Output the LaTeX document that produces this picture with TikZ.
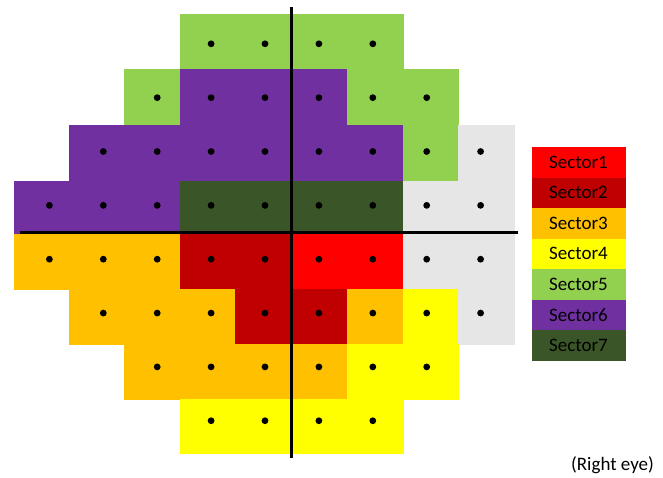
\documentclass[tikz,border=0pt]{standalone}
\usepackage{fontspec}
\setmainfont{Carlito}
\definecolor{sOne}{HTML}{FF0000}
\definecolor{sTwo}{HTML}{C00000}
\definecolor{sThree}{HTML}{FFC000}
\definecolor{sFour}{HTML}{FFFF00}
\definecolor{sFive}{HTML}{92D050}
\definecolor{sSix}{HTML}{7030A0}
\definecolor{sSeven}{HTML}{3A5527}
\definecolor{sGray}{HTML}{E7E6E6}
\begin{document}
\begin{tikzpicture}[x=1pt,y=-1pt,
  legbox/.style={rectangle, minimum width=94pt, minimum height=30.5pt, inner sep=0pt, font=\fontsize{19}{22}\selectfont, text=black},
  axisline/.style={line width=3pt, black},
  dot/.style={fill=black}]
\useasboundingbox (0,0) rectangle (663,477);
\def\xs{{14,69,124.5,180,235.5,291,347,403,458.5,514.5}}
\def\ys{{14,69,125,181,234,289,344,399,453}}
\foreach \c/\r/\col in {
  3/0/sFive,4/0/sFive,5/0/sFive,6/0/sFive,
  2/1/sFive,3/1/sSix,4/1/sSix,5/1/sSix,6/1/sFive,7/1/sFive,
  1/2/sSix,2/2/sSix,3/2/sSix,4/2/sSix,5/2/sSix,6/2/sSix,7/2/sFive,8/2/sGray,
  0/3/sSix,1/3/sSix,2/3/sSix,3/3/sSeven,4/3/sSeven,5/3/sSeven,6/3/sSeven,7/3/sGray,8/3/sGray,
  0/4/sThree,1/4/sThree,2/4/sThree,3/4/sTwo,4/4/sTwo,5/4/sOne,6/4/sOne,7/4/sGray,8/4/sGray,
  1/5/sThree,2/5/sThree,3/5/sThree,4/5/sTwo,5/5/sTwo,6/5/sThree,7/5/sFour,8/5/sGray,
  2/6/sThree,3/6/sThree,4/6/sThree,5/6/sThree,6/6/sFour,7/6/sFour,
  3/7/sFour,4/7/sFour,5/7/sFour,6/7/sFour}{
  \pgfmathsetmacro\xa{\xs[\c]}
  \pgfmathsetmacro\xb{\xs[\c+1]}
  \pgfmathsetmacro\ya{\ys[\r]}
  \pgfmathsetmacro\yb{\ys[\r+1]}
  \fill[\col, draw=\col, line width=0.5pt] (\xa,\ya) rectangle (\xb,\yb);
  \fill[dot] ({49.4+53.9*\c},{43.8+53.85*\r}) circle[radius=3.4pt];
}
\coordinate (hl) at (20,232);
\coordinate (hr) at (518,232);
\coordinate (vt) at (291,7);
\coordinate (vb) at (291,458);
\draw[axisline] (hl) -- (hr);
\draw[axisline] (vt) -- (vb);
\node[legbox, fill=sOne]   (s1) at (578.5,162.25) {Sector1};
\node[legbox, fill=sTwo]   (s2) at (578.5,192.75) {Sector2};
\node[legbox, fill=sThree] (s3) at (578.5,223.25) {Sector3};
\node[legbox, fill=sFour]  (s4) at (578.5,253.75) {Sector4};
\node[legbox, fill=sFive]  (s5) at (578.5,284.25) {Sector5};
\node[legbox, fill=sSix]   (s6) at (578.5,314.75) {Sector6};
\node[legbox, fill=sSeven] (s7) at (578.5,345.25) {Sector7};
\node[font=\fontsize{19}{22}\selectfont, inner sep=0pt] (eye) at (612.5,465) {(Right eye)};
\end{tikzpicture}
\end{document}
